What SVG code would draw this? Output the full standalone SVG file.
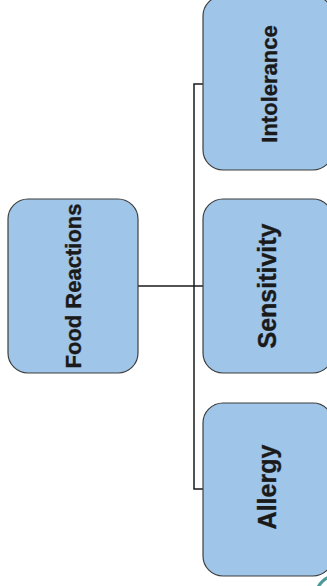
<svg xmlns="http://www.w3.org/2000/svg" width="327" height="586" viewBox="0 0 327 586">
<style>
.box{fill:#9fc5e8;stroke:#3f3f3f;stroke-width:1.2}
.lbl{font-family:"Liberation Sans",Arial,sans-serif;font-weight:bold;fill:#1a1a1a;stroke:#1a1a1a;stroke-width:0.35;text-anchor:middle}
.conn{fill:none;stroke:#1a1a1a;stroke-width:1.5}
</style>
<rect width="327" height="586" fill="#ffffff"/>
<g id="connectors">
<path class="conn" d="M138,286 H203"/>
<path class="conn" d="M203,84 H194 V489 H203"/>
</g>
<g id="food-reactions">
<rect class="box" x="8" y="199" width="130" height="174" rx="20"/>
<text class="lbl" font-size="22" transform="translate(81,286) rotate(-90)">Food Reactions</text>
</g>
<g id="intolerance">
<rect class="box" x="203" y="-4" width="130" height="174" rx="20"/>
<text class="lbl" font-size="22" transform="translate(277,84) rotate(-90)">Intolerance</text>
</g>
<g id="sensitivity">
<rect class="box" x="203" y="199" width="130" height="174" rx="20"/>
<text class="lbl" font-size="25" transform="translate(276,286) rotate(-90)">Sensitivity</text>
</g>
<g id="allergy">
<rect class="box" x="203" y="403" width="130" height="173" rx="20"/>
<text class="lbl" font-size="25" transform="translate(276,487) rotate(-90)">Allergy</text>
</g>
<path d="M318,587 Q322,580 329,577" fill="none" stroke="#4a9a9a" stroke-width="3"/>
</svg>
